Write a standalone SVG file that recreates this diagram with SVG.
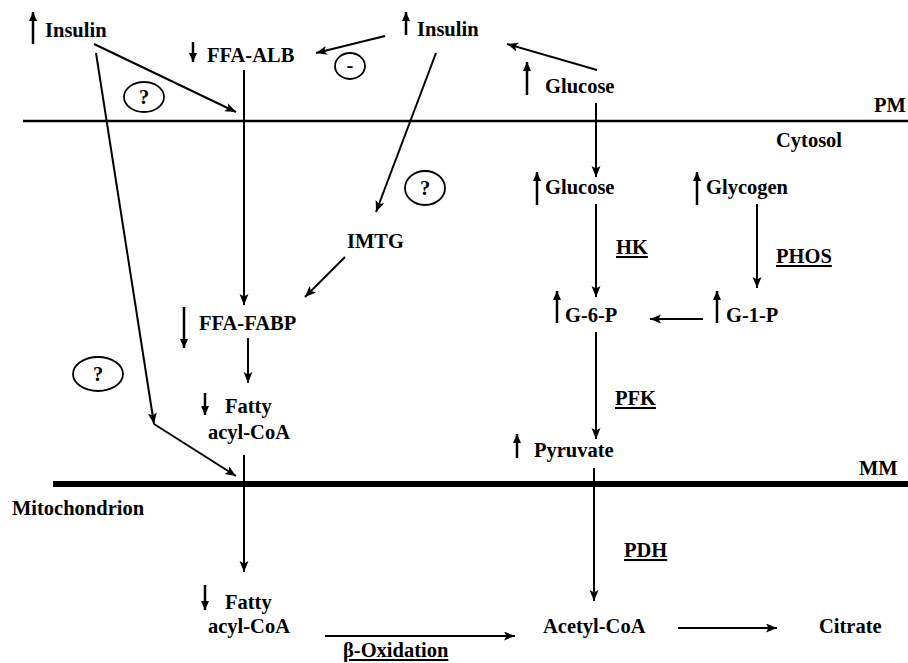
<svg xmlns="http://www.w3.org/2000/svg" width="908" height="663" viewBox="0 0 908 663">
<defs>
<marker id="ah" markerUnits="userSpaceOnUse" markerWidth="12" markerHeight="10" refX="11" refY="4.5" orient="auto">
<path d="M0,0 L11,4.5 L0,9 L2.5,4.5 z" fill="#000"/>
</marker>
<marker id="ih" markerUnits="userSpaceOnUse" markerWidth="10" markerHeight="10" refX="9" refY="4" orient="auto">
<path d="M0,0 L9,4 L0,8 z" fill="#000"/>
</marker>
</defs>
<style>
text{font-family:"Liberation Serif","Times New Roman",serif;font-weight:bold;font-size:20.5px;fill:#000}
.c{stroke:#000;stroke-width:2;fill:none;marker-end:url(#ah)}
.l{stroke:#000;stroke-width:2;fill:none}
.i{stroke:#000;stroke-width:2.5;fill:none;marker-end:url(#ih)}
.e{stroke:#000;stroke-width:1.8;fill:#fff}
.u{text-decoration:underline}
</style>
<rect width="908" height="663" fill="#fff"/>

<g id="membranes">
<line x1="23" y1="121" x2="908" y2="121" stroke="#000" stroke-width="2.5"/>
<line x1="53" y1="484" x2="908" y2="484" stroke="#000" stroke-width="6"/>
<text x="874" y="112">PM</text>
<text x="776" y="147">Cytosol</text>
<text x="859" y="475">MM</text>
<text x="12" y="515">Mitochondrion</text>
</g>

<g id="connectors">
<line class="c" x1="94" y1="44" x2="236" y2="112"/>
<line class="c" x1="96" y1="53" x2="154" y2="424"/>
<line class="c" x1="154" y1="424" x2="236" y2="476"/>
<line class="c" x1="385" y1="36" x2="316" y2="53"/>
<line class="c" x1="597" y1="70" x2="507" y2="44"/>
<line class="c" x1="436" y1="53" x2="376" y2="212"/>
<line class="c" x1="244" y1="70" x2="244" y2="305"/>
<line class="c" x1="345" y1="257" x2="305" y2="297"/>
<line class="c" x1="248" y1="338" x2="248" y2="383"/>
<line class="c" x1="244" y1="455" x2="244" y2="572"/>
<line class="c" x1="596" y1="103" x2="596" y2="177"/>
<line class="c" x1="596" y1="204" x2="596" y2="297"/>
<line class="c" x1="757" y1="204" x2="757" y2="288"/>
<line class="c" x1="703" y1="319" x2="650" y2="319"/>
<line class="c" x1="596" y1="332" x2="596" y2="439"/>
<line class="c" x1="594" y1="468" x2="594" y2="601"/>
<line class="c" x1="325" y1="636" x2="515" y2="636"/>
<line class="c" x1="678" y1="628" x2="777" y2="628"/>
</g>

<g id="q1"><ellipse class="e" cx="144" cy="97" rx="20" ry="15"/><text x="144" y="104" text-anchor="middle" font-size="16">?</text></g>
<g id="q2"><ellipse class="e" cx="425" cy="188" rx="20" ry="17"/><text x="425" y="195" text-anchor="middle" font-size="16">?</text></g>
<g id="q3"><ellipse class="e" cx="98" cy="374" rx="25" ry="17"/><text x="98" y="381" text-anchor="middle" font-size="16">?</text></g>
<g id="minus"><ellipse class="e" cx="350" cy="66" rx="15" ry="13"/><text x="350" y="72" text-anchor="middle" font-size="16">-</text></g>

<g id="insulin1"><line class="i" x1="33" y1="44" x2="33" y2="12"/><text x="45" y="37">Insulin</text></g>
<g id="insulin2"><line class="i" x1="406" y1="35" x2="406" y2="12"/><text x="417" y="36">Insulin</text></g>
<g id="ffa-alb"><line class="i" x1="193" y1="42" x2="193" y2="62"/><text x="207" y="62">FFA-ALB</text></g>
<g id="glucose-out"><line class="i" x1="527" y1="95" x2="527" y2="62"/><text x="545" y="93">Glucose</text></g>
<g id="glucose-in"><line class="i" x1="537" y1="205" x2="537" y2="172"/><text x="545" y="194">Glucose</text></g>
<g id="glycogen"><line class="i" x1="697" y1="205" x2="697" y2="172"/><text x="706" y="194">Glycogen</text></g>
<g id="imtg"><text x="347" y="248">IMTG</text></g>
<g id="ffa-fabp"><line class="i" x1="184" y1="307" x2="184" y2="348"/><text x="199" y="330">FFA-FABP</text></g>
<g id="g6p"><line class="i" x1="557" y1="323" x2="557" y2="291"/><text x="565" y="322">G-6-P</text></g>
<g id="g1p"><line class="i" x1="717" y1="323" x2="717" y2="291"/><text x="726" y="322">G-1-P</text></g>
<g id="fatty1"><line class="i" x1="205" y1="393" x2="205" y2="415"/><text x="225" y="413">Fatty</text><text x="208" y="439">acyl-CoA</text></g>
<g id="pyruvate"><line class="i" x1="517" y1="458" x2="517" y2="434"/><text x="534" y="457">Pyruvate</text></g>
<g id="fatty2"><line class="i" x1="205" y1="585" x2="205" y2="610"/><text x="225" y="609">Fatty</text><text x="208" y="633">acyl-CoA</text></g>
<g id="acetyl"><text x="543" y="633">Acetyl-CoA</text></g>
<g id="citrate"><text x="819" y="633">Citrate</text></g>

<g id="enzymes">
<text class="u" x="616" y="254">HK</text>
<text class="u" x="776" y="263">PHOS</text>
<text class="u" x="615" y="405">PFK</text>
<text class="u" x="624" y="557">PDH</text>
<text class="u" x="343" y="657">β-Oxidation</text>
</g>
</svg>
